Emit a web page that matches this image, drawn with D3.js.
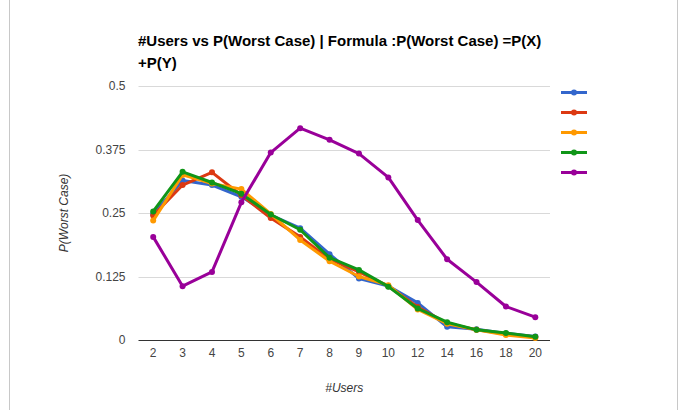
<!DOCTYPE html>
<html>
<head>
<meta charset="utf-8">
<script src="https://cdn.jsdelivr.net/npm/d3@7"></script>
<style>
  body { margin: 0; background: #fff; }
  svg { font-family: "Liberation Sans", Arial, sans-serif; }
</style>
</head>
<body>
<svg width="680" height="410"></svg>
<script>
// Data
var users = ["2", "3", "4", "5", "6", "7", "8", "9", "10", "12", "14", "16", "18", "20"];
var yTicks = [0, 0.125, 0.25, 0.375, 0.5];
var seriesA = [0.248, 0.314, 0.305, 0.282, 0.246, 0.220, 0.169, 0.121, 0.106, 0.073, 0.026, 0.021, 0.013, 0.007];
var seriesB = [0.245, 0.305, 0.330, 0.285, 0.240, 0.203, 0.159, 0.134, 0.106, 0.065, 0.033, 0.020, 0.012, 0.006];
var seriesC = [0.235, 0.325, 0.308, 0.297, 0.248, 0.197, 0.155, 0.125, 0.108, 0.060, 0.032, 0.020, 0.010, 0.004];
var seriesD = [0.253, 0.331, 0.310, 0.288, 0.247, 0.217, 0.162, 0.138, 0.105, 0.062, 0.035, 0.020, 0.014, 0.0065];
var seriesE = [0.203, 0.106, 0.134, 0.271, 0.369, 0.417, 0.394, 0.367, 0.320, 0.236, 0.159, 0.114, 0.066, 0.045];
var colors = ["#3366cc", "#dc3912", "#ff9900", "#109618", "#990099"];

var series = [seriesA, seriesB, seriesC, seriesD, seriesE];

var svg = d3.select("svg"),
    margin = {top: 86, left: 138.5, right: 130, bottom: 70},
    width = 680 - margin.left - margin.right,
    height = 410 - margin.top - margin.bottom;

// Page frame lines
svg.append("line").attr("x1", 9.5).attr("x2", 9.5).attr("y1", 0).attr("y2", 410)
    .attr("stroke", "#c8c8c8");
svg.append("line").attr("x1", 677.5).attr("x2", 677.5).attr("y1", 0).attr("y2", 410)
    .attr("stroke", "#c8c8c8");

// Title
var title = svg.append("text")
    .attr("x", 138)
    .attr("font-size", "15px")
    .attr("font-weight", "bold")
    .attr("fill", "#000");
title.append("tspan").attr("x", 138).attr("y", 46)
    .text("#Users vs P(Worst Case) | Formula :P(Worst Case) =P(X)");
title.append("tspan").attr("x", 138).attr("y", 68).text("+P(Y)");

var g = svg.append("g")
    .attr("transform", "translate(" + margin.left + "," + margin.top + ")");

var x = d3.scaleBand().domain(users).range([0, width]);
var y = d3.scaleLinear().domain([0, 0.5]).range([height, 0]);

// Gridlines
g.selectAll(".grid")
    .data(yTicks.filter(function(d) { return d > 0; }))
    .enter().append("line")
    .attr("class", "grid")
    .attr("x1", 0).attr("x2", width)
    .attr("y1", function(d) { return Math.round(y(d)) + 0.5; })
    .attr("y2", function(d) { return Math.round(y(d)) + 0.5; })
    .attr("stroke", "#d9d9d9");

// Y axis labels
var yAxis = g.append("g")
    .call(d3.axisLeft(y).tickValues(yTicks).tickSize(0).tickPadding(13)
        .tickFormat(function(d) { return String(d); }));
yAxis.select(".domain").remove();
yAxis.selectAll("text")
    .attr("font-size", "12px")
    .attr("font-family", "Liberation Sans, Arial, sans-serif")
    .attr("fill", "#444");

// X axis labels
var xAxis = g.append("g")
    .attr("transform", "translate(0," + height + ")")
    .call(d3.axisBottom(x).tickSize(0).tickPadding(8));
xAxis.select(".domain").remove();
xAxis.selectAll("text")
    .attr("font-size", "12px")
    .attr("font-family", "Liberation Sans, Arial, sans-serif")
    .attr("fill", "#444");

// Baseline
g.append("line")
    .attr("x1", 0).attr("x2", width)
    .attr("y1", Math.round(y(0)) + 0.5).attr("y2", Math.round(y(0)) + 0.5)
    .attr("stroke", "#333");

// Axis titles
svg.append("text")
    .attr("transform", "translate(68," + (margin.top + height / 2) + ") rotate(-90)")
    .attr("text-anchor", "middle")
    .attr("font-size", "12px")
    .attr("font-style", "italic")
    .attr("fill", "#333")
    .text("P(Worst Case)");
svg.append("text")
    .attr("x", margin.left + width / 2)
    .attr("y", 392)
    .attr("text-anchor", "middle")
    .attr("font-size", "12px")
    .attr("font-style", "italic")
    .attr("fill", "#333")
    .text("#Users");

// Lines
var line = d3.line()
    .x(function(d, i) { return x(users[i]) + x.bandwidth() / 2; })
    .y(function(d) { return y(d); });

series.forEach(function(s, k) {
    g.append("path")
        .datum(s)
        .attr("fill", "none")
        .attr("stroke", colors[k])
        .attr("stroke-width", 3)
        .attr("stroke-linejoin", "round")
        .attr("d", line);
    g.selectAll(".pt" + k)
        .data(s)
        .enter().append("circle")
        .attr("cx", function(d, i) { return x(users[i]) + x.bandwidth() / 2; })
        .attr("cy", function(d) { return y(d); })
        .attr("r", 3)
        .attr("fill", colors[k]);
});

// Legend (no labels)
var legend = svg.append("g");
colors.forEach(function(c, k) {
    var ly = 92.5 + k * 20;
    legend.append("line")
        .attr("x1", 561).attr("x2", 587)
        .attr("y1", ly).attr("y2", ly)
        .attr("stroke", c).attr("stroke-width", 3);
    legend.append("circle")
        .attr("cx", 574).attr("cy", ly).attr("r", 3)
        .attr("fill", c);
});
</script>
</body>
</html>
